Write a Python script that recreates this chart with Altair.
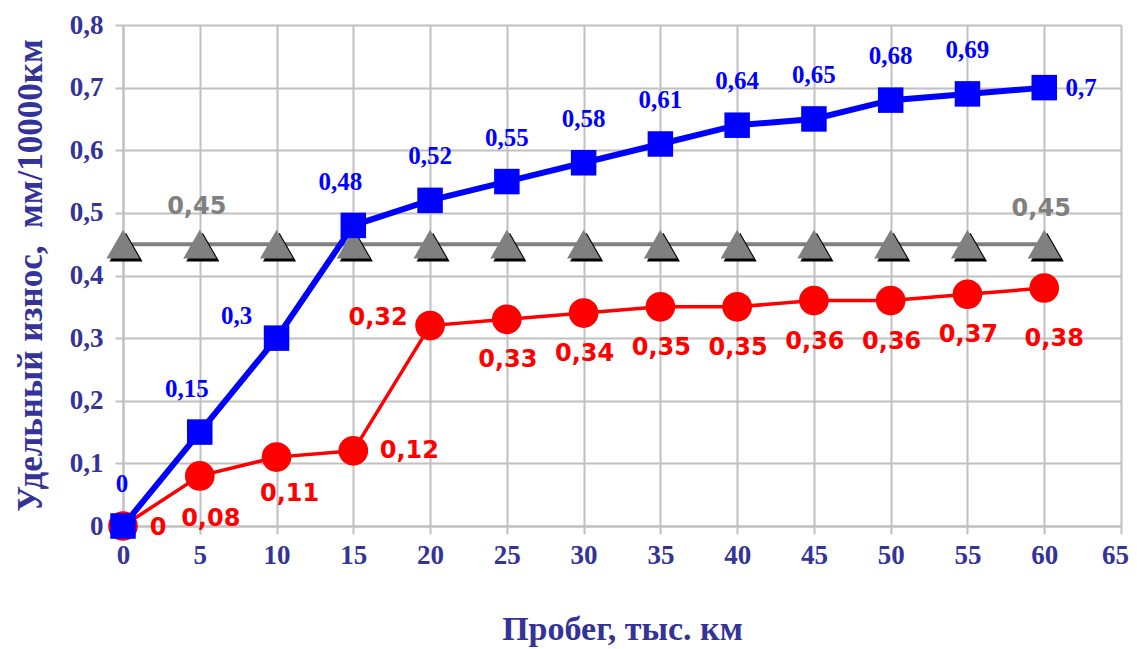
import altair as alt
import pandas as pd

probeg = [0, 5, 10, 15, 20, 25, 30, 35, 40, 45, 50, 55, 60]
blue_vals = [0, 0.15, 0.3, 0.48, 0.52, 0.55, 0.58, 0.61, 0.64, 0.65, 0.68, 0.69, 0.7]
red_vals = [0, 0.08, 0.11, 0.12, 0.32, 0.33, 0.34, 0.35, 0.35, 0.36, 0.36, 0.37, 0.38]
gray_vals = [0.45] * 13
x_ticks = list(range(0, 70, 5))
y_ticks = [0, 0.1, 0.2, 0.3, 0.4, 0.5, 0.6, 0.7, 0.8]


def lab(v):
    return str(v).replace(".", ",") if v != 0 else "0"


df = pd.DataFrame({
    "i": list(range(len(probeg))),
    "x": probeg,
    "b": blue_vals,
    "r": red_vals,
    "g": gray_vals,
    "bl": [lab(v) for v in blue_vals],
    "rl": [lab(v) for v in red_vals],
    "gl": [lab(v) for v in gray_vals],
})

NAVY = "#333399"
SERIF = "Liberation Serif"
SANS = "DejaVu Sans"

xs = alt.Scale(domain=[0, 65], nice=False, zero=False)
ys = alt.Scale(domain=[0, 0.8], nice=False)

X = alt.X("x:Q", scale=xs, axis=alt.Axis(
    values=x_ticks, title="Пробег, тыс. км", labelFlush=False,
    labelOffset={"expr": "datum.value == 65 ? -6 : 0"},
    titleX=499, titleY=103, titleBaseline="middle"))

yaxis = alt.Axis(values=y_ticks, title="Удельный износ,\u00a0 мм/10000км",
                 labelExpr="datum.value == 0 ? '0' : replace(format(datum.value, '.1f'), '.', ',')",
                 titleX=-93, titleY=250, titleBaseline="middle", titleFontSize=35)


def ych(field):
    return alt.Y(f"{field}:Q", scale=ys, axis=yaxis)


base = alt.Chart(df)

gray_line = base.mark_line(color="#808080", strokeWidth=4).encode(x=X, y=ych("g"))
gray_shadow = base.mark_point(shape="triangle-up", filled=True, color="#000000", opacity=1,
                              size=1100, xOffset=3, yOffset=3).encode(x=X, y=ych("g"))
gray_pts = base.mark_point(shape="triangle-up", filled=True, color="#808080", opacity=1,
                           size=1100).encode(x=X, y=ych("g"))

red_line = base.mark_line(color="#FF0000", strokeWidth=3.5).encode(x=X, y=ych("r"))
red_pts = base.mark_point(shape="circle", filled=True, color="#FF0000", opacity=1,
                          size=880).encode(x=X, y=ych("r"))

blue_line = base.mark_line(color="#0000FF", strokeWidth=6).encode(x=X, y=ych("b"))
blue_pts = base.mark_point(shape="square", filled=True, color="#0000FF", opacity=1,
                           size=650).encode(x=X, y=ych("b"))


def btext(filt, dx, dy):
    return base.transform_filter(filt).mark_text(
        font=SERIF, fontWeight="bold", fontSize=25, color="#0000FF",
        dx=dx, dy=dy, baseline="middle", align="center").encode(x=X, y=ych("b"), text="bl:N")


def rtext(filt, dx, dy):
    return base.transform_filter(filt).mark_text(
        font=SANS, fontWeight="bold", fontSize=24, color="#FF0000",
        dx=dx, dy=dy, baseline="middle", align="center").encode(x=X, y=ych("r"), text="rl:N")


def gtext(filt, dx, dy):
    return base.transform_filter(filt).mark_text(
        font=SANS, fontWeight="bold", fontSize=24, color="#808080",
        dx=dx, dy=dy, baseline="middle", align="center").encode(x=X, y=ych("g"), text="gl:N")


texts = [
    btext("datum.i == 0", -1, -42),
    btext("datum.i == 1 || datum.i == 3", -13, -43),
    btext("datum.i == 2", -40, -22),
    btext("datum.i >= 4 && datum.i <= 11", 0, -44),
    btext("datum.i == 12", 37, 0),
    rtext("datum.i == 0", 35, 2),
    rtext("datum.i == 1", 11, 43),
    rtext("datum.i == 2", 13, 37),
    rtext("datum.i == 3", 56, 0),
    rtext("datum.i == 4", -52, -8),
    rtext("datum.i >= 5 && datum.i <= 11", 1, 41),
    rtext("datum.i == 12", 10, 51),
    gtext("datum.i == 1", -3, -37),
    gtext("datum.i == 12", -3, -35),
]

chart = alt.layer(
    gray_line, gray_shadow, gray_pts, red_line, red_pts, blue_line, blue_pts, *texts
).properties(
    width=998, height=501,
    autosize=alt.AutoSizeParams(type="none"),
    padding={"left": 115, "top": 17, "right": 8, "bottom": 124},
    background="#ffffff",
).configure_axis(
    grid=True, gridColor="#c0c0c0", gridWidth=2,
    domainColor="#c0c0c0", domainWidth=2,
    tickColor="#c0c0c0", tickWidth=2, tickSize=8,
    labelFont=SERIF, labelFontWeight="bold", labelFontSize=27, labelColor=NAVY,
    titleFont=SERIF, titleFontWeight="bold", titleFontSize=34, titleColor=NAVY,
).configure_axisX(labelPadding=8).configure_axisY(labelPadding=12).configure_view(stroke=None)

chart.save("out.html", embed_options={"renderer": "svg", "actions": False})
